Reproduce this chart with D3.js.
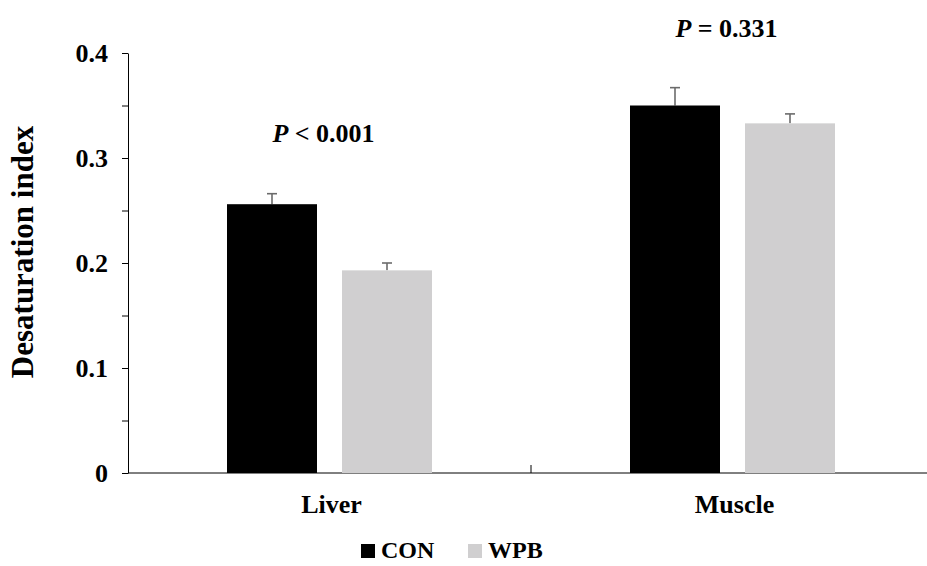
<!DOCTYPE html>
<html>
<head>
<meta charset="utf-8">
<script src="https://cdn.jsdelivr.net/npm/d3@7"></script>
<style>
  body { margin: 0; background: #fff; overflow: hidden; }
  text { font-family: "Liberation Serif", "Times New Roman", serif; font-weight: bold; }
</style>
</head>
<body>
<script>
// data
var categories = ["Liver", "Muscle"];
var groups = ["CON", "WPB"];
var conValues = [0.256, 0.350];
var wpbValues = [0.193, 0.333];
var conErrors = [0.010, 0.017];
var wpbErrors = [0.007, 0.009];
var pLabels = ["< 0.001", "= 0.331"];
var yTicks = [0, 0.1, 0.2, 0.3, 0.4];
var yMinorTicks = [0.05, 0.15, 0.25, 0.35];

function init(){
    var w = 927, h = 566;
    var colors = {CON: "#000000", WPB: "#d0cfd0"};

    var svg = d3.select("body").append("svg")
                .attr("width", w)
                .attr("height", h)
                .style("display", "block");

    // scales
    var xScale = d3.scaleBand()
                   .domain(categories)
                   .range([128, 934])
                   .padding(0);

    var xInner = d3.scaleBand() // bars inside one category
                   .domain(groups)
                   .range([99, 304])
                   .paddingInner(25 / 115);

    var yScale = d3.scaleLinear()
                   .domain([0, 0.4])
                   .range([473, 53]);

    // y axis, minor ticks first
    svg.append("g")
       .attr("transform", "translate(128,0)")
       .call(d3.axisLeft(yScale).tickValues(yMinorTicks).tickSize(6).tickFormat(""))
       .call(g => g.select(".domain").remove());

    var yAxis = svg.append("g")
       .attr("transform", "translate(128,0)")
       .call(d3.axisLeft(yScale)
               .tickValues(yTicks)
               .tickSize(6)
               .tickSizeOuter(0)
               .tickPadding(14)
               .tickFormat(function(d){ return d === 0 ? "0" : d3.format(".1f")(d); }));
    yAxis.selectAll("text")
         .style("font-size", "26px")
         .attr("fill", "#000");
    yAxis.selectAll("line, path").attr("stroke", "#000");
    svg.selectAll(".tick line").attr("stroke", "#000");

    // x axis line and the divider between categories
    svg.append("line")
       .attr("x1", xScale.range()[0])
       .attr("x2", xScale.range()[1])
       .attr("y1", yScale(0))
       .attr("y2", yScale(0))
       .attr("stroke", "#000");

    svg.selectAll(".divider")
       .data(categories.slice(1))
       .enter()
       .append("line")
       .attr("class", "divider")
       .attr("x1", function(d){ return xScale(d); })
       .attr("x2", function(d){ return xScale(d); })
       .attr("y1", yScale(0))
       .attr("y2", yScale(0) - 8)
       .attr("stroke", "#000");

    // rows of bar data
    var rows = [];
    categories.forEach(function(c, i){
        rows.push({cat: c, grp: "CON", v: conValues[i], e: conErrors[i]});
        rows.push({cat: c, grp: "WPB", v: wpbValues[i], e: wpbErrors[i]});
    });

    // error bars (drawn behind the bars)
    var err = svg.selectAll(".err")
       .data(rows)
       .enter()
       .append("g")
       .attr("class", "err")
       .attr("stroke", "#6b6b6b")
       .attr("stroke-width", 1.6);
    err.append("line")
       .attr("x1", function(d){ return xScale(d.cat) + xInner(d.grp) + xInner.bandwidth() / 2; })
       .attr("x2", function(d){ return xScale(d.cat) + xInner(d.grp) + xInner.bandwidth() / 2; })
       .attr("y1", function(d){ return yScale(d.v); })
       .attr("y2", function(d){ return yScale(d.v + d.e); });
    err.append("line")
       .attr("x1", function(d){ return xScale(d.cat) + xInner(d.grp) + xInner.bandwidth() / 2 - 5; })
       .attr("x2", function(d){ return xScale(d.cat) + xInner(d.grp) + xInner.bandwidth() / 2 + 5; })
       .attr("y1", function(d){ return yScale(d.v + d.e); })
       .attr("y2", function(d){ return yScale(d.v + d.e); });

    // bars
    svg.selectAll(".bar")
       .data(rows)
       .enter()
       .append("rect")
       .attr("class", "bar")
       .attr("x", function(d){ return xScale(d.cat) + xInner(d.grp); })
       .attr("y", function(d){ return yScale(d.v); })
       .attr("width", xInner.bandwidth())
       .attr("height", function(d){ return yScale(0) - yScale(d.v); })
       .attr("fill", function(d){ return colors[d.grp]; });

    // category labels
    svg.selectAll(".cat")
       .data(categories)
       .enter()
       .append("text")
       .attr("class", "cat")
       .attr("x", function(d){ return xScale(d) + xScale.bandwidth() / 2 + 2; })
       .attr("y", 513)
       .attr("text-anchor", "middle")
       .style("font-size", "26px")
       .text(function(d){ return d; });

    // P value labels
    var pY = [142, 37];
    var p = svg.selectAll(".pval")
       .data(categories)
       .enter()
       .append("text")
       .attr("class", "pval")
       .attr("x", function(d){ return xScale(d) + xScale.bandwidth() / 2 - 6; })
       .attr("y", function(d, i){ return pY[i]; })
       .attr("text-anchor", "middle")
       .style("font-size", "26px");
    p.append("tspan").style("font-style", "italic").text("P");
    p.append("tspan").text(function(d, i){ return " " + pLabels[i]; });

    // y title
    svg.append("text")
       .attr("transform", "translate(33,252) rotate(-90)")
       .attr("text-anchor", "middle")
       .style("font-size", "31px")
       .text("Desaturation index");

    // legend
    var legX = [361, 468];
    var leg = svg.selectAll(".leg")
       .data(groups)
       .enter()
       .append("g")
       .attr("class", "leg")
       .attr("transform", function(d, i){ return "translate(" + legX[i] + ",544)"; });
    leg.append("rect")
       .attr("width", 14)
       .attr("height", 14)
       .attr("fill", function(d){ return colors[d]; });
    leg.append("text")
       .attr("x", 20)
       .attr("y", 14)
       .style("font-size", "24px")
       .text(function(d){ return d; });
}
window.onload = init;
</script>
</body>
</html>
